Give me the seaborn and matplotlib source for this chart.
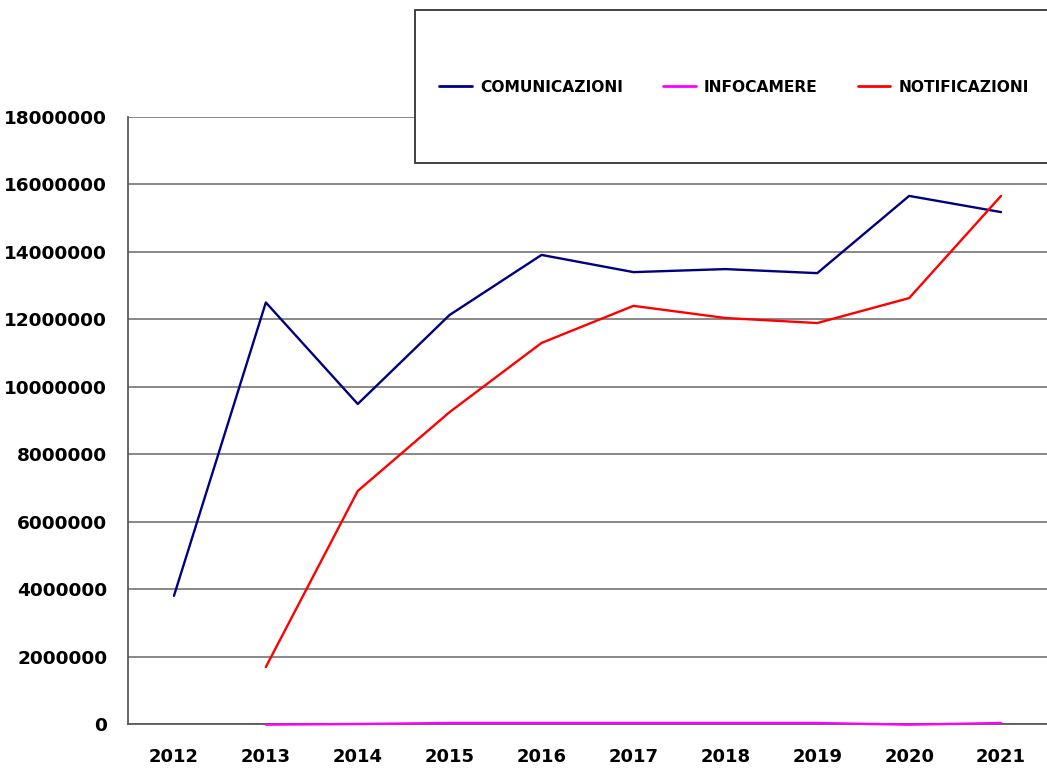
import matplotlib
matplotlib.use("Agg")
import matplotlib.pyplot as plt
import matplotlib.patches as mpatches
import matplotlib.ticker as mticker
import numpy as np
import pandas as pd
import seaborn as sns

years = ["2012", "2013", "2014", "2015", "2016", "2017", "2018", "2019", "2020", "2021"]
comunicazioni = [3800000, 12500000, 9490000, 12130000, 13910000, 13400000, 13490000, 13370000, 15660000, 15180000]
infocamere = [np.nan, -20000, 0, 30000, 30000, 30000, 30000, 30000, -20000, 30000]
notificazioni = [np.nan, 1690000, 6910000, 9250000, 11300000, 12400000, 12040000, 11890000, 12630000, 15660000]
series_names = ["COMUNICAZIONI", "INFOCAMERE", "NOTIFICAZIONI"]
series_colors = ["#000080", "#FF00FF", "#FF0000"]
yticks = list(range(0, 18000001, 2000000))

rows = []
for name, vals in zip(series_names, [comunicazioni, infocamere, notificazioni]):
    for y, v in zip(years, vals):
        if not (isinstance(v, float) and np.isnan(v)):
            rows.append({"anno": y, "valore": v, "serie": name})
df = pd.DataFrame(rows)

sns.set_style("white")
plt.rcParams["font.family"] = ["DejaVu Sans"]
plt.rcParams["text.color"] = "black"
plt.rcParams["xtick.color"] = "black"
plt.rcParams["ytick.color"] = "black"

fig = plt.figure(figsize=(10.47, 7.69), dpi=100)
ax = fig.add_axes([128 / 1047, 1 - 724 / 769, 1 - 128 / 1047, (724 - 117) / 769])

sns.lineplot(data=df, x="anno", y="valore", hue="serie", hue_order=series_names,
             palette=dict(zip(series_names, series_colors)), linewidth=1.7,
             ax=ax, legend=False, sort=False, zorder=5)
for ln in ax.lines:
    ln.set_clip_on(False)

ax.set_xlim(-0.5, len(years) - 0.5)
ax.set_ylim(0, 18000000)
ax.set_yticks(yticks)
ax.yaxis.set_major_formatter(mticker.FuncFormatter(lambda v, p: f"{int(v)}"))
ax.grid(axis="y", color="#7f7f7f", linewidth=1.3)
ax.grid(axis="x", visible=False)
ax.set_axisbelow(True)

# x ticks at category boundaries, labels centered
ax.xaxis.set_major_locator(mticker.FixedLocator(np.arange(-0.5, len(years), 1.0)))
ax.xaxis.set_major_formatter(mticker.NullFormatter())
ax.xaxis.set_minor_locator(mticker.FixedLocator(np.arange(len(years))))
ax.xaxis.set_minor_formatter(mticker.FixedFormatter(years))
ax.tick_params(axis="x", which="major", length=7, width=1.3, color="#595959", direction="out")
ax.tick_params(axis="x", which="minor", length=0, pad=17, labelsize=13, labelcolor="black")
ax.tick_params(axis="y", length=7, width=1.3, color="#595959", direction="out", pad=8,
               labelsize=13.3, labelcolor="black")
for lab in ax.get_xticklabels(minor=True) + ax.get_yticklabels():
    lab.set_fontweight("bold")

ax.set_xlabel("")
ax.set_ylabel("")
for s in ["top", "right"]:
    ax.spines[s].set_visible(False)
for s in ["left", "bottom"]:
    ax.spines[s].set_color("#595959")
    ax.spines[s].set_linewidth(1.3)

# legend box
bx0, by0, bx1, by1 = 415 / 1047, 1 - 163 / 769, 1.2, 1 - 10 / 769
rect = mpatches.Rectangle((bx0, by0), bx1 - bx0, by1 - by0, transform=fig.transFigure,
                          facecolor="white", edgecolor="#333333", linewidth=1.3, zorder=10)
fig.patches.append(rect)
handles = [plt.Line2D([], [], color=c, linewidth=2) for c in series_colors]
leg = fig.legend(handles, series_names, loc="center", ncol=3, frameon=False,
                 bbox_to_anchor=(734 / 1047, 1 - 87 / 769),
                 prop={"weight": "bold", "size": 11.2},
                 handlelength=2.1, handletextpad=0.5, columnspacing=2.6)
for t in leg.get_texts():
    t.set_color("black")
leg.set_zorder(11)

fig.savefig("out.png", dpi=100)
